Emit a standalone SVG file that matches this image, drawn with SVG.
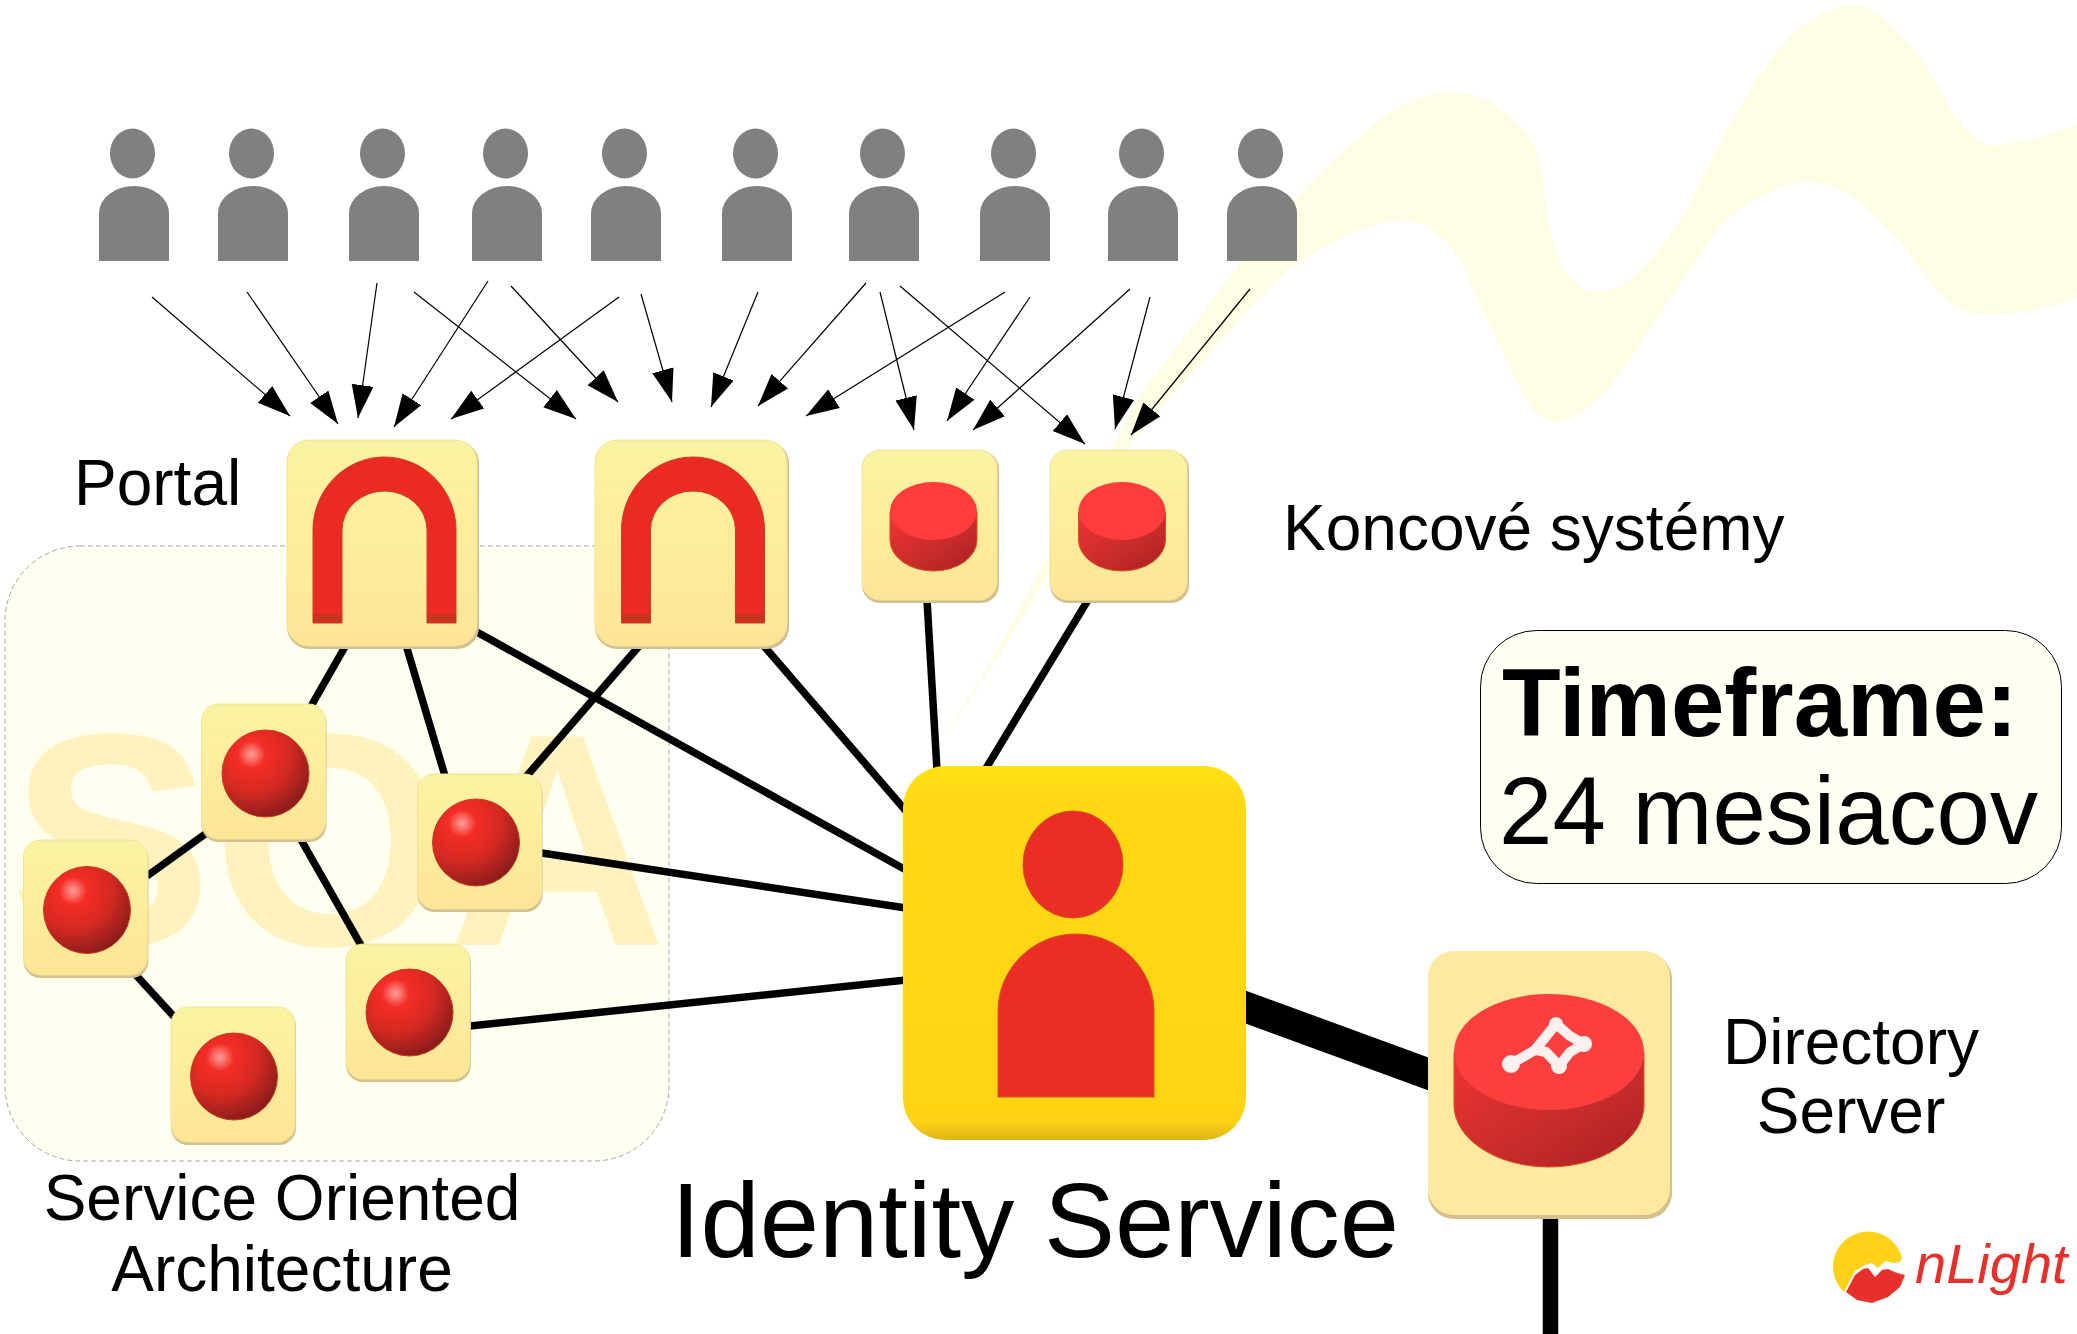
<svg xmlns="http://www.w3.org/2000/svg" width="2077" height="1334" viewBox="0 0 2077 1334">
<style>
text{font-family:"Liberation Sans",Arial,sans-serif;fill:#000}
.lbl{font-size:64px}
.mid{text-anchor:middle}
.thin{stroke:#000;stroke-width:1.2;fill:none;marker-end:url(#ah)}
.thick{stroke:#000;stroke-width:7.5;fill:none}
.tile{fill:url(#tileG);stroke:#f2e39a;stroke-width:1}
.tileShade{fill:#d3c08c}
.sph{fill:url(#ballG);stroke:#c83a20;stroke-width:1}
</style>
<defs>
<marker id="ah" markerUnits="userSpaceOnUse" markerWidth="34" markerHeight="24" refX="33" refY="12" orient="auto"><path d="M0 1 L33 12 L0 23 Z" fill="#000"/></marker>
<linearGradient id="tileG" x1="0" y1="0" x2="0" y2="1"><stop offset="0" stop-color="#f8f3a2"/><stop offset=".25" stop-color="#fdf0a0"/><stop offset="1" stop-color="#fde596"/></linearGradient>
<linearGradient id="idG" x1="0" y1="0" x2="0" y2="1"><stop offset="0" stop-color="#ffe116"/><stop offset=".1" stop-color="#ffd814"/><stop offset=".95" stop-color="#ffd414"/><stop offset="1" stop-color="#dcb416"/></linearGradient>
<radialGradient id="ballG" cx=".34" cy=".28" r=".8"><stop offset="0" stop-color="#ffa098"/><stop offset=".2" stop-color="#f42c26"/><stop offset=".55" stop-color="#d42a22"/><stop offset="1" stop-color="#7f1a1a"/></radialGradient>
<linearGradient id="cylG" x1="0" y1="0" x2="1" y2="1"><stop offset="0" stop-color="#ee3434"/><stop offset=".6" stop-color="#c62c2a"/><stop offset="1" stop-color="#a81e24"/></linearGradient>
<g id="person"><ellipse cx="33.500" cy="153.500" rx="22.500" ry="25" fill="#808080"/><path d="M0 261 V213 A35 27 0 0 1 70 213 V261 Z" fill="#808080"/></g>
<g id="arch"><path d="M313 623 V530 A71.500 73 0 0 1 456 530 V623 H427 V530 A42.500 39 0 0 0 342 530 V623 Z" fill="#ec2a24" stroke="#c8401f" stroke-width="1"/><path d="M313 614 H342 V623 H313 Z M427 614 H456 V623 H427 Z" fill="#c8341f"/></g>
<g id="cyl"><path d="M0 30 V58 A43.500 31 0 0 0 87 58 V30 Z" fill="url(#cylG)" stroke="#d8501f" stroke-width="1"/><ellipse cx="43.500" cy="29" rx="43.500" ry="29" fill="#ff3c3c"/></g>
<g id="ballTile"><rect x="0" y="2" width="125" height="136" rx="17" class="tileShade"/><rect x="0" y="0" width="124" height="135" rx="17" class="tile"/></g>
</defs>

<path id="ribbon" fill="#fffde3" d="M935 750 L992 660 L1046 560 L1113 448 L1139 396 Q1170 355 1200 317 Q1250 245 1295 200 Q1330 160 1368 130 Q1410 92 1452 92 Q1490 92 1524 130 Q1540 145 1545 200 Q1556 285 1591 292 Q1620 295 1647 263 Q1670 240 1692 200 Q1745 85 1793 33 Q1830 5 1853 5 Q1875 5 1899 33 Q1925 60 1938 87 Q1960 130 1980 142 Q1990 147 2000 145 Q2040 140 2077 125 L2077 297 Q2030 315 1989 315 Q1950 315 1927 277 Q1900 240 1871 213 Q1840 182 1810 182 Q1770 182 1720 225 Q1685 275 1636 350 Q1590 422 1552 422 Q1530 415 1513 373 L1474 293 Q1452 225 1404 220 Q1350 225 1287 271 Q1260 295 1229 332 L1133 439 L1050 571 L997 660 Z"/>

<g id="soa-region">
<rect x="5" y="546" width="664" height="615" rx="75" ry="75" fill="#fffff0" stroke="#a6a6a6" stroke-width="1" stroke-dasharray="5 3"/>
<text x="10" y="945" font-size="303" font-weight="700" style="fill:#fff2bf">SOA</text>
</g>

<g id="connectors">
<g id="user-arrows">
<line class="thin" x1="152" y1="297" x2="290" y2="416"/>
<line class="thin" x1="247" y1="292" x2="338" y2="424"/>
<line class="thin" x1="377" y1="283" x2="358" y2="418"/>
<line class="thin" x1="488" y1="281" x2="394" y2="427"/>
<line class="thin" x1="619" y1="297" x2="451" y2="419"/>
<line class="thin" x1="414" y1="292" x2="576" y2="419"/>
<line class="thin" x1="511" y1="286" x2="618" y2="402"/>
<line class="thin" x1="641" y1="294" x2="672" y2="402"/>
<line class="thin" x1="758" y1="292" x2="711" y2="407"/>
<line class="thin" x1="866" y1="283" x2="758" y2="406"/>
<line class="thin" x1="1005" y1="292" x2="806" y2="416"/>
<line class="thin" x1="880" y1="292" x2="914" y2="430"/>
<line class="thin" x1="1030" y1="297" x2="947" y2="421"/>
<line class="thin" x1="1130" y1="289" x2="973" y2="430"/>
<line class="thin" x1="900" y1="286" x2="1085" y2="444"/>
<line class="thin" x1="1150" y1="297" x2="1115" y2="429"/>
<line class="thin" x1="1250" y1="289" x2="1131" y2="435"/>
</g>
<line class="thick" x1="346" y1="645" x2="310" y2="708"/>
<line class="thick" x1="406" y1="645" x2="445" y2="776"/>
<line class="thick" x1="475" y1="631" x2="906" y2="870"/>
<line class="thick" x1="640" y1="645" x2="525" y2="778"/>
<line class="thick" x1="763" y1="645" x2="906" y2="811"/>
<line class="thick" x1="927" y1="600" x2="937" y2="770"/>
<line class="thick" x1="1088" y1="600" x2="985" y2="770"/>
<line class="thick" x1="535" y1="852" x2="906" y2="908"/>
<line class="thick" x1="470" y1="1026" x2="906" y2="980"/>
<line class="thick" x1="208" y1="832" x2="147" y2="876"/>
<line class="thick" x1="300" y1="838" x2="362" y2="947"/>
<line class="thick" x1="135" y1="974" x2="178" y2="1021"/>
<line x1="1240" y1="1005" x2="1434" y2="1076" stroke="#000" stroke-width="31"/>
<line x1="1550.500" y1="1215" x2="1550.500" y2="1334" stroke="#000" stroke-width="15.500"/>
</g>

<g id="users">
<use id="user1" href="#person" x="99"/>
<use id="user2" href="#person" x="218"/>
<use id="user3" href="#person" x="349"/>
<use id="user4" href="#person" x="472"/>
<use id="user5" href="#person" x="591"/>
<use id="user6" href="#person" x="722"/>
<use id="user7" href="#person" x="849"/>
<use id="user8" href="#person" x="980"/>
<use id="user9" href="#person" x="1108"/>
<use id="user10" href="#person" x="1227"/>
</g>

<g id="portal1"><rect x="287" y="441" width="192" height="208" rx="22" class="tileShade"/><rect x="287" y="440" width="190" height="206" rx="22" class="tile"/><use href="#arch"/></g>
<g id="portal2"><rect x="595" y="441" width="194" height="208" rx="22" class="tileShade"/><rect x="595" y="440" width="192" height="206" rx="22" class="tile"/><use href="#arch" x="308.500"/></g>
<g id="system1"><rect x="862" y="451" width="137" height="152" rx="18" class="tileShade"/><rect x="862" y="450" width="135" height="150" rx="18" class="tile"/><use href="#cyl" x="881.500" y="482" transform="translate(8.500 0)"/></g>
<g id="system2"><rect x="1050" y="451" width="139" height="152" rx="18" class="tileShade"/><rect x="1050" y="450" width="137" height="150" rx="18" class="tile"/><use href="#cyl" x="1078.500" y="482"/></g>

<g id="soa1"><use href="#ballTile" x="201.500" y="704"/><circle class="sph" cx="265.500" cy="773.500" r="43.500"/></g>
<g id="soa2"><use href="#ballTile" x="417.500" y="774"/><circle class="sph" cx="476" cy="842.500" r="43.500"/></g>
<g id="soa3"><use href="#ballTile" x="23.500" y="840"/><circle class="sph" cx="87" cy="910" r="43.500"/></g>
<g id="soa4"><use href="#ballTile" x="346" y="944"/><circle class="sph" cx="409.500" cy="1012.500" r="43.500"/></g>
<g id="soa5"><use href="#ballTile" x="171" y="1007"/><circle class="sph" cx="234" cy="1076.500" r="43.500"/></g>

<g id="identity-service">
<rect x="903" y="766" width="343" height="374" rx="42" fill="url(#idG)"/>
<ellipse cx="1073" cy="864.500" rx="50" ry="53.500" fill="#ea2e26" stroke="#d2541a" stroke-width="1"/>
<path d="M998 1097 V1011 A78 77 0 0 1 1154 1011 V1097 Z" fill="#ea2e26" stroke="#d2541a" stroke-width="1"/>
</g>

<g id="directory-server">
<rect x="1428" y="953" width="244" height="266" rx="26" class="tileShade"/>
<rect x="1428" y="951" width="242" height="264" rx="26" fill="#fdeaa0"/>
<path d="M1454 1052 V1105 A95 62 0 0 0 1644 1105 V1052 Z" fill="url(#cylG)" stroke="#d8501f" stroke-width="1"/>
<ellipse cx="1549" cy="1052" rx="95" ry="58" fill="#fb3f3f"/>
<path d="M1511 1064 L1535 1050 L1556 1024 L1570 1036 L1584 1044 L1570 1052 L1559 1066 L1546 1052 L1536 1050" fill="none" stroke="#fff0f0" stroke-width="10" stroke-linejoin="round" stroke-linecap="round"/>
<circle cx="1511" cy="1064" r="9" fill="#fff0f0"/><circle cx="1559" cy="1066" r="8" fill="#fff0f0"/><circle cx="1584" cy="1044" r="8" fill="#fff0f0"/><circle cx="1556" cy="1024" r="7" fill="#fff0f0"/>
</g>

<g id="timeframe">
<rect x="1480.500" y="630.500" width="581" height="253" rx="56" fill="#fffff3" stroke="#000" stroke-width="1"/>
<text x="1502" y="736" font-size="96" font-weight="700">Timeframe:</text>
<text x="1499" y="844" font-size="96">24 mesiacov</text>
</g>

<g id="labels">
<text class="lbl" x="74" y="505">Portal</text>
<text class="lbl" x="1283" y="550">Koncové systémy</text>
<text class="lbl mid" x="282" y="1220">Service Oriented</text>
<text class="lbl mid" x="282" y="1291">Architecture</text>
<text x="1035" y="1257" font-size="106.500" class="mid">Identity Service</text>
<text class="lbl mid" x="1851" y="1064">Directory</text>
<text class="lbl mid" x="1851" y="1133">Server</text>
</g>

<g id="logo">
<path d="M1844 1292 A35 35 0 1 1 1902 1258 L1900 1262 L1893 1263 L1885 1261 L1878 1268 L1872 1263 L1865 1265 L1855 1271 Z" fill="#ffd118"/>
<path d="M1846 1292 L1855 1275 L1863 1269 L1868 1268 L1875 1277 L1882 1270 L1888 1269 L1897 1273 L1905 1275 L1900 1287 L1888 1297 L1872 1303 L1857 1300 Z" fill="#e8302a"/>
<text x="1915" y="1283" font-size="56" font-style="italic" style="fill:#e8302a">nLight</text>
</g>
</svg>
